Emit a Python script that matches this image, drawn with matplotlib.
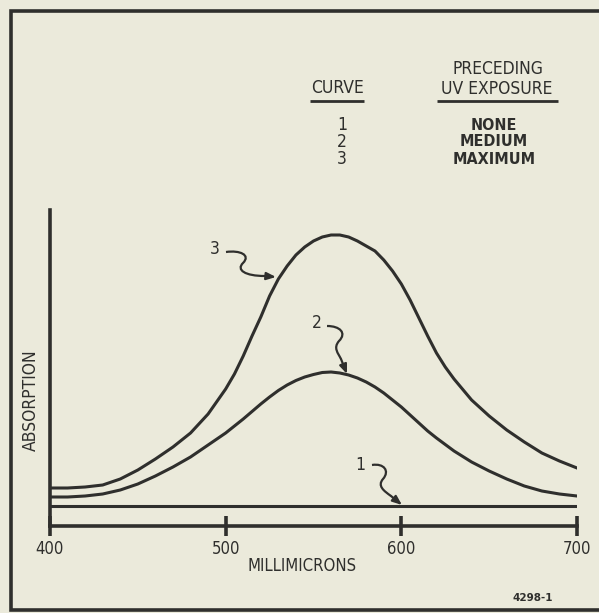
import matplotlib
matplotlib.use("Agg")
import matplotlib.pyplot as plt
from matplotlib.path import Path
from matplotlib.patches import PathPatch
from matplotlib.transforms import Affine2D

# ==========================================
# DATOS
# ==========================================

wl_3 = [400, 410, 420, 430, 440, 450, 460, 470, 480, 490, 500, 505, 510,
        515, 520, 525, 530, 535, 540, 545, 550, 555, 560, 565, 570, 575,
        580, 585, 590, 595, 600, 605, 610, 615, 620, 625, 630, 640, 650,
        660, 670, 680, 690, 700]
ab_3 = [0.38, 0.38, 0.39, 0.41, 0.47, 0.56, 0.67, 0.79, 0.93, 1.12, 1.37,
        1.52, 1.70, 1.90, 2.09, 2.30, 2.47, 2.60, 2.71, 2.79, 2.85, 2.89,
        2.91, 2.91, 2.89, 2.85, 2.80, 2.75, 2.66, 2.55, 2.42, 2.26, 2.08,
        1.90, 1.73, 1.59, 1.47, 1.26, 1.10, 0.96, 0.84, 0.73, 0.65, 0.58]

wl_2 = [400, 410, 420, 430, 440, 450, 460, 470, 480, 490, 500, 510, 520,
        525, 530, 535, 540, 545, 550, 555, 560, 565, 570, 575, 580, 585,
        590, 595, 600, 605, 610, 615, 620, 630, 640, 650, 660, 670, 680,
        690, 700]
ab_2 = [0.29, 0.29, 0.30, 0.32, 0.36, 0.42, 0.50, 0.59, 0.69, 0.81, 0.93,
        1.07, 1.22, 1.29, 1.355, 1.41, 1.455, 1.49, 1.515, 1.535, 1.54,
        1.53, 1.51, 1.48, 1.44, 1.39, 1.33, 1.26, 1.19, 1.11, 1.03, 0.95,
        0.88, 0.75, 0.64, 0.55, 0.47, 0.40, 0.35, 0.32, 0.30]

wl_1 = [400, 700]
ab_1 = [0.20, 0.20]

x_ticks = [400, 500, 600, 700]
x_labels = ["400", "500", "600", "700"]

curve_ids = ["1", "2", "3"]
exposures = ["NONE", "MEDIUM", "MAXIMUM"]

# ==========================================
# ESTILO
# ==========================================

W, H = 599, 613
BG = "#ebeadb"
INK = "#2f2f2d"

plt.rcParams["font.family"] = ["DejaVu Sans"]
plt.rcParams["font.stretch"] = "condensed"

# pixeles de imagen (y hacia abajo) -> pixeles de figura
pix = Affine2D().scale(1, -1).translate(0, H)

fig = plt.figure(figsize=(W / 100, H / 100), dpi=100, facecolor=BG)

ax = fig.add_axes([50 / W, 1 - 526 / H, 527 / W, 316 / H])
ax.set_facecolor("none")
ax.set_xlim(400, 700)
ax.set_ylim(0, 3.16)

for s in ["top", "right"]:
    ax.spines[s].set_visible(False)
for s in ["left", "bottom"]:
    ax.spines[s].set_linewidth(2.6)
    ax.spines[s].set_color(INK)

ax.set_yticks([])
ax.set_xticks(x_ticks)
ax.set_xticklabels(x_labels)
ax.tick_params(axis="x", direction="inout", length=14, width=2.6,
               color=INK, labelcolor=INK, labelsize=12, pad=3)

# curvas
for wl, ab in [(wl_1, ab_1), (wl_2, ab_2), (wl_3, ab_3)]:
    ax.plot(wl, ab, color=INK, lw=2.2, solid_joinstyle="round")

# ==========================================
# TEXTOS
# ==========================================

def texto(x, y, s, **kw):
    fig.text(x / W, 1 - y / H, s, color=INK, ha="center", va="center", **kw)

texto(31, 400, "ABSORPTION", rotation=90, fontsize=12.5)
texto(302, 566, "MILLIMICRONS", fontsize=12)
texto(533, 598, "4298-1", fontsize=7.5, weight="bold", stretch="normal")

# leyenda
texto(337, 88, "CURVE", fontsize=12.5)
texto(498, 69, "PRECEDING", fontsize=12.5)
texto(497, 89, "UV EXPOSURE", fontsize=12.5)
for i, (c, e) in enumerate(zip(curve_ids, exposures)):
    y = 125 + 17 * i
    texto(342, y, c, fontsize=12.5)
    texto(494, y, e, fontsize=11.5, weight="bold")

def linea(pts, lw):
    verts = [(x, y) for x, y in pts]
    codes = [Path.MOVETO] + [Path.LINETO] * (len(verts) - 1)
    fig.add_artist(PathPatch(Path(verts, codes), transform=pix, fill=False,
                             lw=lw, edgecolor=INK, capstyle="butt"))

# subrayados
linea([(310, 101), (364, 101)], 2)
linea([(437, 101), (558, 101)], 2)

# marco
linea([(W + 5, 11), (11, 11), (11, 610), (W + 5, 610)], 2.6)

# ==========================================
# ETIQUETAS DE CURVA CON FLECHA ONDULADA
# ==========================================

def onda(label_xy, verts, tip):
    texto(label_xy[0], label_xy[1], label_xy[2], fontsize=12.5)
    codes = [Path.MOVETO] + [Path.CURVE4] * (len(verts) - 1)
    fig.add_artist(PathPatch(Path(verts, codes), transform=pix, fill=False,
                             lw=1.6, edgecolor=INK))
    start = verts[-1]
    ax.annotate("", xy=(tip[0], H - tip[1]), xycoords="figure pixels",
                xytext=(start[0], H - start[1]), textcoords="figure pixels",
                arrowprops=dict(arrowstyle="-|>,head_length=0.55,head_width=0.22",
                                color=INK, lw=1.6, shrinkA=0, shrinkB=0))

onda((215, 249, "3"),
     [(226, 252), (240, 250), (251, 255), (243, 263),
      (236, 270), (245, 276), (265, 276)],
     (276, 277))

onda((317, 323, "2"),
     [(327, 326), (340, 326), (347, 333), (339, 341),
      (333, 348), (338, 353), (341, 359)],
     (347, 374))

onda((360, 465, "1"),
     [(372, 465), (384, 463), (390, 471), (383, 479),
      (377, 486), (384, 491), (391, 496)],
     (402, 505))

fig.savefig("out.png", dpi=100, facecolor=BG)
